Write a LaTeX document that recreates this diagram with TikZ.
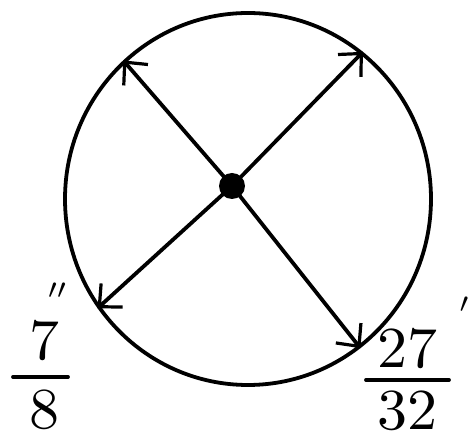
\documentclass[tikz,border=0pt]{standalone}
\usepackage{amsmath,amssymb}
\usepackage{graphicx}
\usepackage{tikz}
\usetikzlibrary{arrows.meta, shapes.geometric, positioning}
\newcommand{\bigdigits}[1]{\scalebox{6}[5.8]{#1}}

\begin{document}
\begin{tikzpicture}[x=1pt, y=-1pt,
    pen/.style={line width=3.8pt, line cap=round, line join=round},
    spoke/.style={pen, -{Straight Barb[length=17pt, width=32pt, line width=3.2pt]}},
    dimlbl/.style={inner sep=0pt}]
  \useasboundingbox (0,0) rectangle (475,443);
  %% rim of the circle, drawn by hand
  \node[pen, draw, ellipse, minimum width=366pt, minimum height=372pt,
        inner sep=0pt] (rim) at (248,199) {};
  %% hub where the four arrows meet
  \coordinate (hub) at (232,186);
  \fill (hub) circle (13pt);
  \foreach \a in {132, 52, 216, 307} {
    \draw[spoke] (hub) -- (rim.\a);
  }
  %% 7/8 inch
  \node[dimlbl] (smallnum) at (45,341) {\bigdigits{7}};
  \node[dimlbl] (smallden) at (45,410) {\bigdigits{8}};
  \node[dimlbl] (smallmk) at (58,298) {\scalebox{4}{$''$}};
  \draw[pen] (13,377) -- (68,377);
  %% 27/32 inch
  \node[dimlbl] (largenum) at (407,349) {\bigdigits{27}};
  \node[dimlbl] (largeden) at (407,411) {\bigdigits{32}};
  \node[dimlbl] (largemk) at (465,312) {\scalebox{4}{$'$}};
  \draw[pen] (366,380) -- (449,380);
\end{tikzpicture}
\end{document}
